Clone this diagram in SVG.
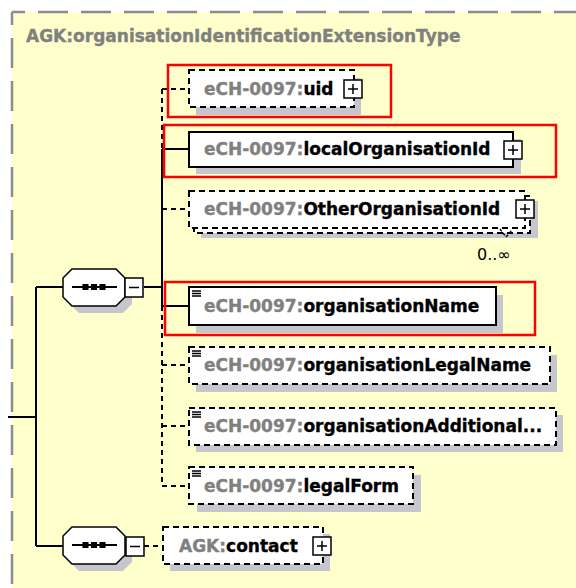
<svg xmlns="http://www.w3.org/2000/svg" width="576" height="588" viewBox="0 0 576 588">
<style>
.t{font-family:"DejaVu Sans",Verdana,sans-serif;font-weight:bold;font-size:17px;stroke-width:0.35}
.pre{fill:#808080;stroke:#808080}
.nm{fill:#000;stroke:#000}
.frame{fill:#fff;stroke:#000;stroke-width:2}
.dash{stroke-dasharray:6 4}
.shadow{fill:#c6c6ce}
.ln{stroke:#000;stroke-width:2;fill:none}
.dl{stroke:#000;stroke-width:2;fill:none;stroke-dasharray:5 4}
.box{fill:#fff;stroke:#000;stroke-width:1.5}
.red{fill:none;stroke:#ff0000;stroke-width:2.5}
.ico{stroke:#000;stroke-width:1.3}
.brd{stroke:#8c8c8c;stroke-width:2.5;stroke-dasharray:30 13;stroke-dashoffset:17}
</style>
<defs>
<g id="plus"><rect class="box" x="0" y="0" width="18" height="18"/><path d="M4 9H14M9 4V14" stroke="#000" stroke-width="1.5"/></g>
<g id="minus"><rect class="box" x="0" y="0" width="18" height="19"/><path d="M4 9.5H14" stroke="#000" stroke-width="1.5"/></g>
<g id="oct"><polygon points="9,0 53,0 62,9 62,28 53,37 9,37 0,28 0,9"/></g>
<g id="dots"><path d="M9 18H54" stroke="#000" stroke-width="1.8"/><rect x="19.5" y="15" width="6" height="6"/><rect x="28" y="15" width="6" height="6"/><rect x="36.5" y="15" width="6" height="6"/></g>
<g id="ico"><path class="ico" d="M3 4H12M3 6.5H12M3 9H12"/></g>
</defs>
<rect x="0" y="0" width="576" height="588" fill="#fff"/>
<rect x="12" y="12" width="570" height="580" fill="#ffffcc"/>
<line class="brd" x1="12" y1="12" x2="576" y2="12"/>
<line class="brd" x1="12" y1="12" x2="12" y2="588"/>
<text class="t pre" x="26" y="42" font-size="17.3">AGK:organisationIdentificationExtensionType</text>

<g id="connectors">
<path class="ln" d="M36 287V546M8 417H36M36 287H63M36 546H63M144 287H162M162 149V306M162 149H189M162 306H189"/>
<path class="dl" d="M162 89V149M162 306V486M162 89H189M162 209H189M162 365H189M162 426H189M162 486H189M144 546H163"/>
</g>

<g id="seq1">
<use href="#oct" x="70" y="276" fill="#c6c6ce"/>
<use href="#oct" x="63" y="269" fill="#fff" stroke="#000" stroke-width="1.5"/>
<use href="#dots" x="63" y="269"/>
<use href="#minus" x="125" y="278"/>
</g>

<g id="seq2">
<use href="#oct" x="70" y="534" fill="#c6c6ce"/>
<use href="#oct" x="63" y="527" fill="#fff" stroke="#000" stroke-width="1.5"/>
<use href="#dots" x="63" y="527"/>
<use href="#minus" x="126" y="537"/>
</g>

<g id="uid">
<rect class="shadow" x="196" y="78" width="165" height="37"/>
<rect class="frame dash" x="189" y="70" width="165" height="37"/>
<text class="t" x="204" y="95"><tspan class="pre">eCH-0097:</tspan><tspan class="nm">uid</tspan></text>
<use href="#plus" x="344" y="80"/>
</g>

<g id="localOrganisationId">
<rect class="shadow" x="196" y="139" width="325" height="35"/>
<rect class="frame" x="189" y="132" width="324" height="35"/>
<text class="t" x="204" y="155"><tspan class="pre">eCH-0097:</tspan><tspan class="nm">localOrganisationId</tspan></text>
<use href="#plus" x="504" y="141"/>
</g>

<g id="OtherOrganisationId">
<rect class="shadow" x="201" y="201" width="337" height="37"/>
<rect class="frame dash" x="194" y="196" width="336" height="37"/>
<rect class="frame dash" x="189" y="191" width="336" height="37"/>
<text class="t" x="204" y="215"><tspan class="pre">eCH-0097:</tspan><tspan class="nm">OtherOrganisationId</tspan></text>
<use href="#plus" x="516" y="200"/>
<polyline points="500,229 506,237 512,230" fill="none" stroke="#000" stroke-width="1.3" stroke-dasharray="3 2"/>
<text x="477" y="260" font-family="DejaVu Sans,Verdana,sans-serif" font-size="16" fill="#000">0..∞</text>
</g>

<g id="organisationName">
<rect class="shadow" x="196" y="295" width="307" height="38"/>
<rect class="frame" x="189" y="287" width="307" height="38"/>
<use href="#ico" x="189" y="287"/>
<text class="t" x="204" y="312"><tspan class="pre">eCH-0097:</tspan><tspan class="nm">organisationName</tspan></text>
</g>

<g id="organisationLegalName">
<rect class="shadow" x="196" y="355" width="361" height="37"/>
<rect class="frame dash" x="189" y="347" width="361" height="37"/>
<use href="#ico" x="189" y="347"/>
<text class="t" x="204" y="371"><tspan class="pre">eCH-0097:</tspan><tspan class="nm">organisationLegalName</tspan></text>
</g>

<g id="organisationAdditional">
<rect class="shadow" x="196" y="415" width="367" height="37"/>
<rect class="frame dash" x="189" y="408" width="367" height="37"/>
<use href="#ico" x="189" y="408"/>
<text class="t" x="204" y="432"><tspan class="pre">eCH-0097:</tspan><tspan class="nm">organisationAdditional...</tspan></text>
</g>

<g id="legalForm">
<rect class="shadow" x="197" y="475" width="224" height="37"/>
<rect class="frame dash" x="189" y="467" width="224" height="37"/>
<use href="#ico" x="189" y="467"/>
<text class="t" x="204" y="492"><tspan class="pre">eCH-0097:</tspan><tspan class="nm">legalForm</tspan></text>
</g>

<g id="contact">
<rect class="shadow" x="170" y="534" width="160" height="37"/>
<rect class="frame dash" x="163" y="527" width="160" height="37"/>
<text class="t" x="179" y="552"><tspan class="pre">AGK:</tspan><tspan class="nm">contact</tspan></text>
<use href="#plus" x="313" y="537"/>
</g>

<g id="highlights">
<rect class="red" x="168" y="65" width="223" height="52"/>
<rect class="red" x="164" y="125" width="392" height="52"/>
<rect class="red" x="165" y="282" width="370" height="53"/>
</g>
</svg>
